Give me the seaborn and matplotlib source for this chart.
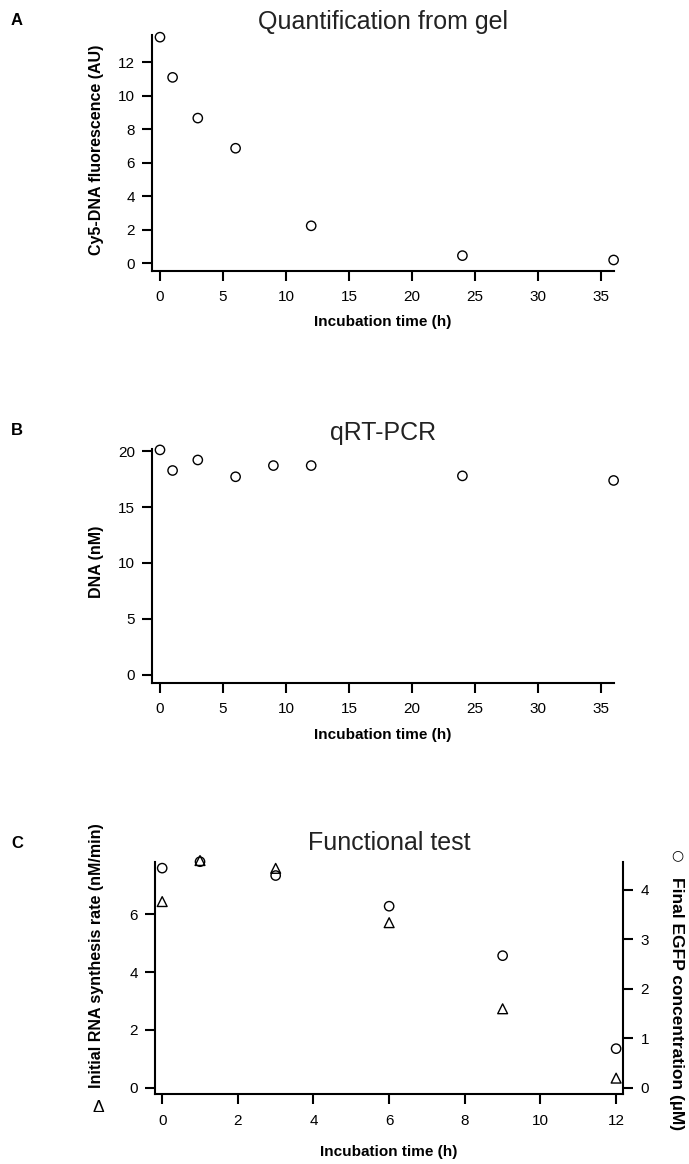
import numpy as np
import pandas as pd
import matplotlib
matplotlib.use('Agg')
import matplotlib.pyplot as plt
import seaborn as sns

# data
time_gel = [0, 1, 3, 6, 12, 24, 36]
cy5_fluo = [13.5, 11.1, 8.67, 6.87, 2.24, 0.46, 0.2]

time_pcr = [0, 1, 3, 6, 9, 12, 24, 36]
dna_nm = [20.1, 18.26, 19.2, 17.7, 18.7, 18.7, 17.78, 17.37]

time_func = [0, 1, 3, 6, 9, 12]
rna_rate = [6.44, 7.86, 7.59, 5.71, 2.73, 0.33]
egfp_um = [4.44, 4.57, 4.29, 3.67, 2.67, 0.79]

sns.set_style('ticks')
plt.rcParams['font.family'] = ['Liberation Sans', 'DejaVu Sans']
plt.rcParams['axes.linewidth'] = 1.5
plt.rcParams['axes.edgecolor'] = 'black'
plt.rcParams['axes.labelcolor'] = 'black'
plt.rcParams['xtick.color'] = 'black'
plt.rcParams['ytick.color'] = 'black'
plt.rcParams['text.color'] = 'black'
plt.rcParams['xtick.major.width'] = 1.5
plt.rcParams['ytick.major.width'] = 1.5
plt.rcParams['xtick.major.size'] = 7.5
plt.rcParams['ytick.major.size'] = 7.5
plt.rcParams['xtick.major.pad'] = 6.5
plt.rcParams['ytick.major.pad'] = 5

W, H = 689, 1164
fig = plt.figure(figsize=(W / 100, H / 100), dpi=100)


def box(left, right, top, bottom):
    return [left / W, 1 - bottom / H, (right - left) / W, (bottom - top) / H]


def style(ax, label_x, label_y):
    ax.spines['top'].set_visible(False)
    ax.spines['right'].set_visible(False)
    ax.tick_params(labelsize=11)
    ax.set_xlabel('Incubation time (h)', fontsize=11, fontweight='bold')
    ax.xaxis.set_label_coords(0.5, label_x)
    ax.yaxis.set_label_coords(label_y[0], label_y[1])


def title(ax, text, dy):
    ax.text(0.5, 1 + dy, text, transform=ax.transAxes, ha='center', va='center',
            fontsize=18, color='#222222')


open_o = dict(marker='o', s=45, facecolor='none', edgecolor='black', linewidth=1, clip_on=False)
open_t = dict(marker='^', s=50, facecolor='none', edgecolor='black', linewidth=1, clip_on=False)

# A
axA = fig.add_axes(box(152.3, 614, 35, 270.7))
sns.scatterplot(x=time_gel, y=cy5_fluo, ax=axA, **open_o)
axA.set_xlim(-0.61, 36.03)
axA.set_ylim(-0.44, 13.63)
axA.set_xticks(np.arange(0, 36, 5))
axA.set_yticks(np.arange(0, 13, 2))
axA.set_ylabel('Cy5-DNA fluorescence (AU)', fontsize=11.5, fontweight='bold')
style(axA, -0.19, (-0.105, 0.512))
title(axA, 'Quantification from gel', 0.056)

# B
axB = fig.add_axes(box(152.3, 614, 449, 682.7))
sns.scatterplot(x=time_pcr, y=dna_nm, ax=axB, **open_o)
axB.set_xlim(-0.61, 36.03)
axB.set_ylim(-0.69, 20.18)
axB.set_xticks(np.arange(0, 36, 5))
axB.set_yticks(np.arange(0, 21, 5))
axB.set_ylabel('DNA (nM)', fontsize=11.5, fontweight='bold')
style(axB, -0.195, (-0.105, 0.518))
title(axB, 'qRT-PCR', 0.07)

# C
axC = fig.add_axes(box(155, 623.3, 861.7, 1094.3))
sns.scatterplot(x=time_func, y=rna_rate, ax=axC, **open_t)
axC.set_xlim(-0.19, 12.19)
axC.set_ylim(-0.23, 7.82)
axC.set_xticks(np.arange(0, 13, 2))
axC.set_yticks(np.arange(0, 7, 2))
axC.set_ylabel('Initial RNA synthesis rate (nM/min)', fontsize=11.5, fontweight='bold')
style(axC, -0.218, (-0.109, 0.595))
title(axC, 'Functional test', 0.08)

axC2 = axC.twinx()
sns.scatterplot(x=time_func, y=egfp_um, ax=axC2, **open_o)
axC2.set_ylim(-0.133, 4.57)
axC2.set_yticks(np.arange(0, 5, 1))
for s in ['top', 'left', 'bottom']:
    axC2.spines[s].set_visible(False)
axC2.tick_params(labelsize=11)
axC2.set_ylabel('Final EGFP concentration (µM)', fontsize=12.5, fontweight='bold', rotation=270)
axC2.yaxis.set_label_coords(1.13, 0.388)

# marker keys next to the axis labels
fig.text(98 / W, 1 - 1108 / H, 'Δ', ha='center', va='center', fontsize=12.5)
fig.text(677 / W, 1 - 855 / H, '○', ha='center', va='center', fontsize=10,
         family=['DejaVu Sans'])

for lab, y in [('A', 20.7), ('B', 430.7), ('C', 843)]:
    fig.text(17 / W, 1 - y / H, lab, ha='center', va='center', fontsize=12, fontweight='bold')

fig.savefig('out.png', dpi=100)
